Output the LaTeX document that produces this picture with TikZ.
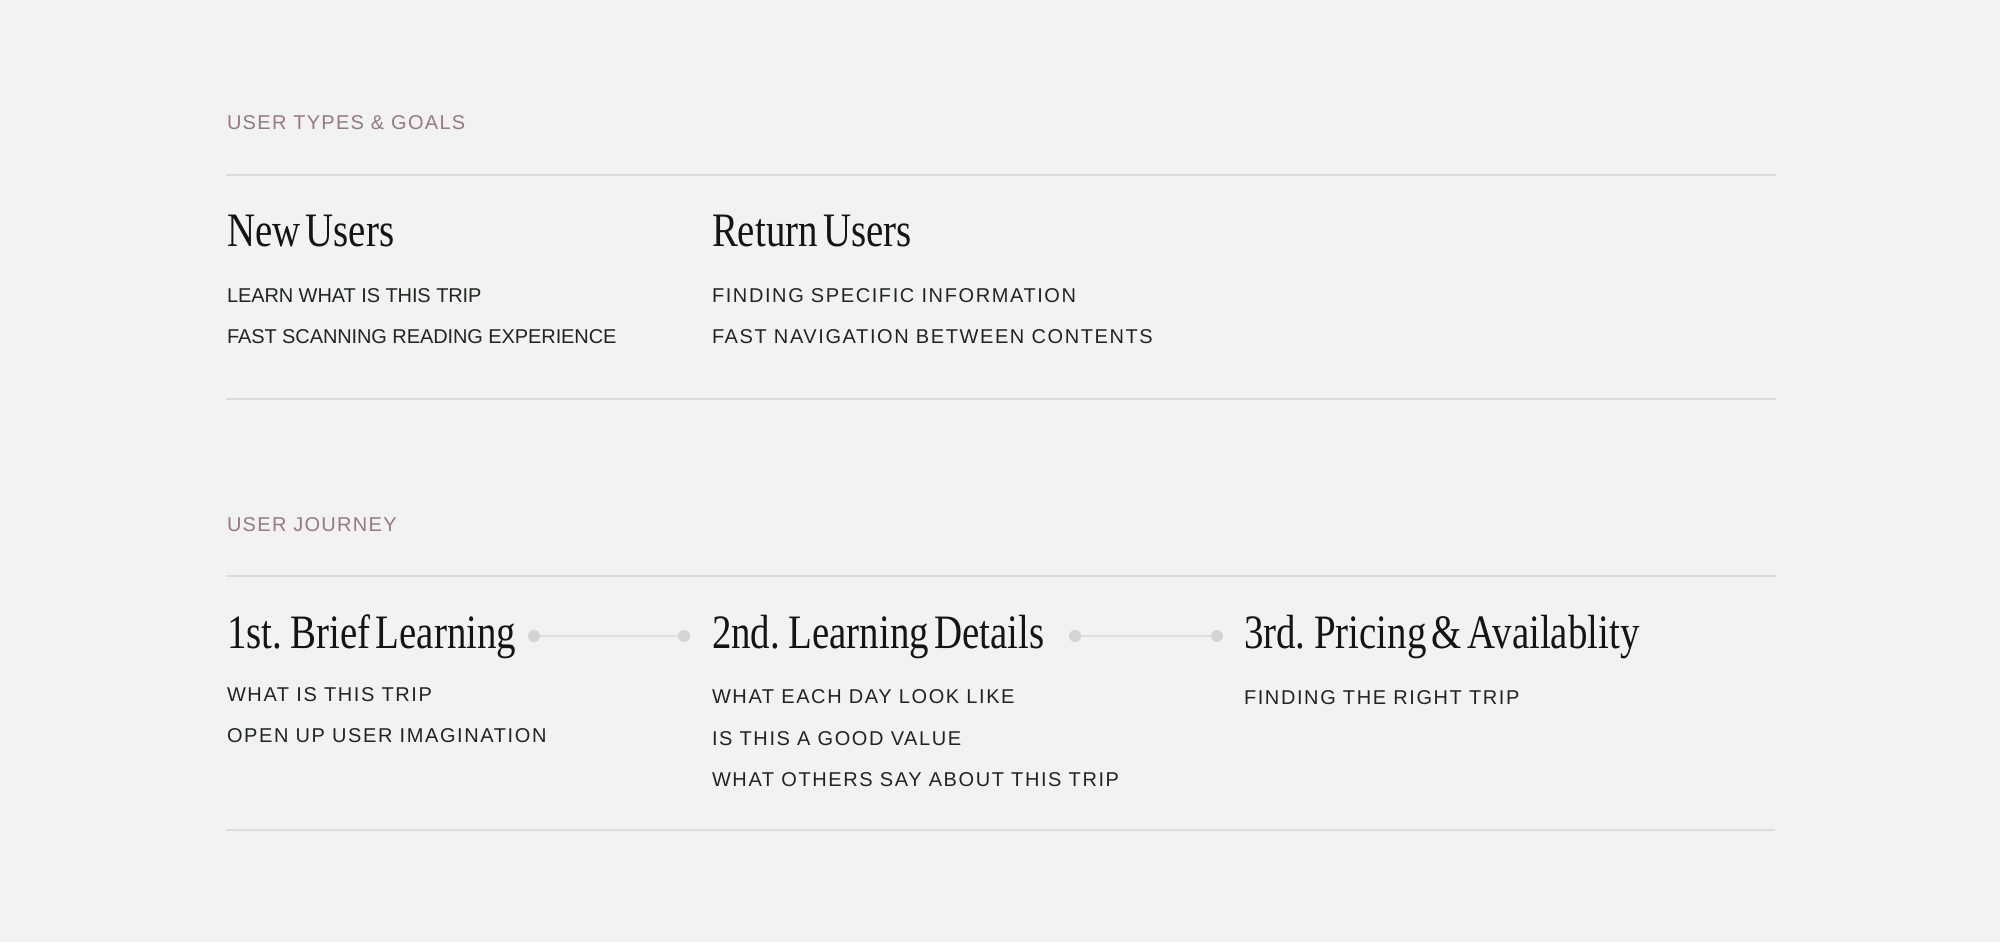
\documentclass[tikz,border=0pt]{standalone}
\usepackage{fontspec}
\setmainfont{Liberation Sans}
\newfontfamily\headfont[FakeStretch=0.81,WordSpace=0.55]{Liberation Serif}
\newfontfamily\bodytight[LetterSpace=-0.5]{Liberation Sans}
\newfontfamily\bodywide[LetterSpace=8]{Liberation Sans}
\newfontfamily\labelfont[LetterSpace=6.5]{Liberation Sans}
\definecolor{bgcol}{HTML}{F2F2F2}
\definecolor{rulecol}{HTML}{DCDCDC}
\definecolor{labelcol}{HTML}{957A80}
\definecolor{bodycol}{HTML}{1F261E}
\definecolor{headcol}{HTML}{141414}
\definecolor{dotcol}{HTML}{D4D4D4}
\definecolor{conncol}{HTML}{DEDEDE}
\tikzset{
  txt/.style={anchor=base west, inner sep=0pt, outer sep=0pt},
  seclabel/.style={txt, text=labelcol, font=\labelfont\fontsize{10}{12}\selectfont},
  heading/.style={txt, text=headcol, font=\headfont\fontsize{24}{28}\selectfont},
  itemwide/.style={txt, text=bodycol, font=\bodywide\fontsize{10}{12}\selectfont},
  itemtight/.style={txt, text=bodycol, font=\bodytight\fontsize{10}{12}\selectfont},
  rulebar/.style={draw=rulecol, line width=0.75pt},
  dotnode/.style={circle, fill=dotcol, inner sep=0pt, minimum size=6pt},
  connline/.style={draw=conncol, line width=1pt}
}
\begin{document}
\begin{tikzpicture}[x=0.5pt,y=-0.5pt]
\fill[bgcol] (0,0) rectangle (2000,942);
\useasboundingbox (0,0) rectangle (2000,942);

% Section 1
\node[seclabel] (lab1) at (227,129) {USER TYPES \& GOALS};
\coordinate (r1a) at (226,175); \coordinate (r1b) at (1776,175);
\draw[rulebar] (r1a) -- (r1b);

\node[heading] (newu) at (227,246) {New Users};
\node[heading] (retu) at (712,246) {Return Users};

\node[itemtight] (n1) at (227,302) {LEARN WHAT IS THIS TRIP};
\node[itemtight] (n2) at (227,343) {FAST SCANNING READING EXPERIENCE};
\node[itemwide] (ru1) at (712,302) {FINDING SPECIFIC INFORMATION};
\node[itemwide] (ru2) at (712,343) {FAST NAVIGATION BETWEEN CONTENTS};

\coordinate (r2a) at (226,399); \coordinate (r2b) at (1776,399);
\draw[rulebar] (r2a) -- (r2b);

% Section 2
\node[seclabel] (lab2) at (227,531) {USER JOURNEY};
\coordinate (r3a) at (226,576); \coordinate (r3b) at (1776,576);
\draw[rulebar] (r3a) -- (r3b);

\node[heading] (h1) at (227,648) {1st. Brief Learning};
\node[heading] (h2) at (712,648) {2nd. Learning Details};
\node[heading] (h3) at (1244,648) {3rd. Pricing \& Availablity};

\node[dotnode] (d1) at (534,636) {};
\node[dotnode] (d2) at (684,636) {};
\node[dotnode] (d3) at (1075,636) {};
\node[dotnode] (d4) at (1217,636) {};
\draw[connline] (d1) -- (d2);
\draw[connline] (d3) -- (d4);

\node[itemwide] (a1) at (227,701) {WHAT IS THIS TRIP};
\node[itemwide] (a2) at (227,742) {OPEN UP USER IMAGINATION};
\node[itemwide] (b1) at (712,703) {WHAT EACH DAY LOOK LIKE};
\node[itemwide] (b2) at (712,745) {IS THIS A GOOD VALUE};
\node[itemwide] (b3) at (712,786) {WHAT OTHERS SAY ABOUT THIS TRIP};
\node[itemwide] (c1) at (1244,704) {FINDING THE RIGHT TRIP};

\coordinate (r4a) at (226,830); \coordinate (r4b) at (1775,830);
\draw[rulebar] (r4a) -- (r4b);
\end{tikzpicture}
\end{document}
